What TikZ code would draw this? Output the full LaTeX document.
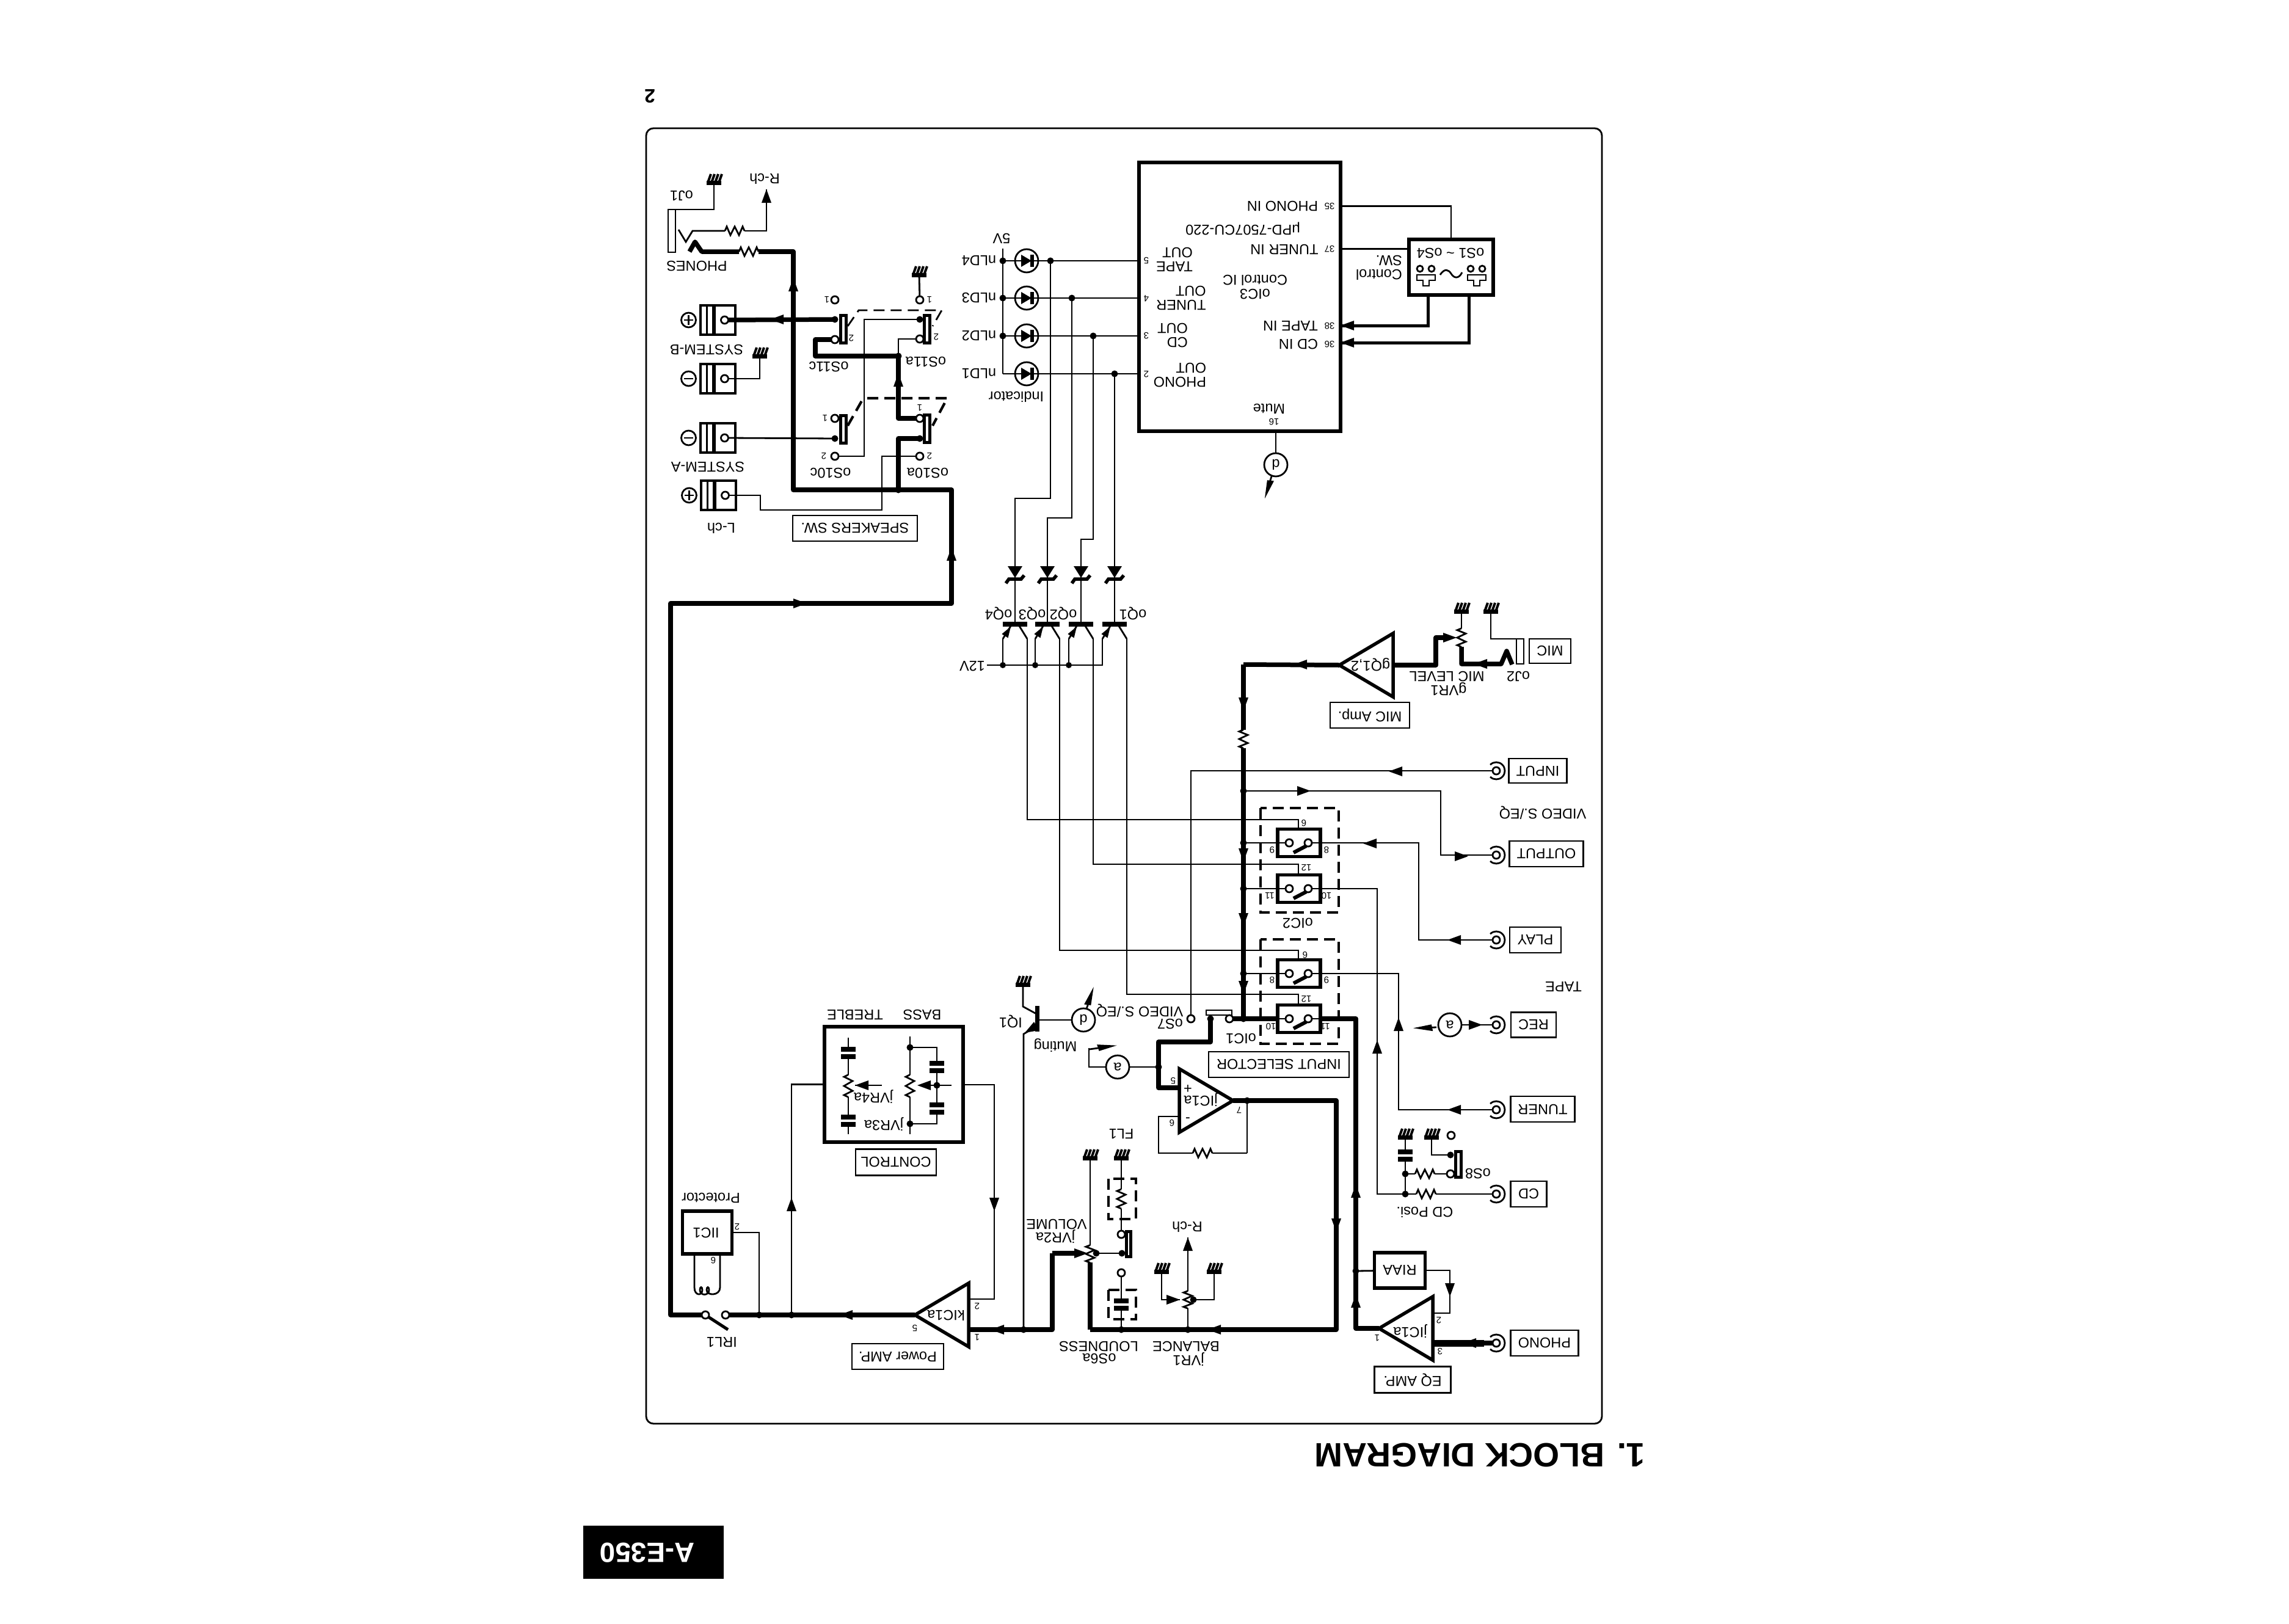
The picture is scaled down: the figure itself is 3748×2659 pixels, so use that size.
\documentclass[tikz,border=0pt]{standalone}
\usepackage{fontspec}
\setmainfont{Liberation Sans}
\tikzset{
  thinw/.style={line width=0.28mm},
  midw/.style={line width=0.5mm},
  thickw/.style={line width=0.75mm,line join=round},
  lbl/.style={rotate=180,inner sep=0pt,align=left,font=\fontsize{6.7}{6.5}\selectfont},
  pinno/.style={rotate=180,inner sep=0pt,font=\fontsize{4.3}{5}\selectfont},
  tagbox/.style={lbl,draw,thinw},
  block/.style={draw,line width=0.55mm,inner sep=0pt},
  sig/.style={lbl,draw,thinw,circle,minimum size=3.8mm},
  dashbox/.style={line width=0.42mm,dash pattern=on 1.8mm off 1mm},
  pics/earth/.style={code={
    \draw[line width=0.7mm] (-12,0) -- (12,0);
    \foreach \h in {-10,-4,2,8} \draw[line width=0.4mm] (\h,0) -- (\h+5,-14);
    \coordinate (-o) at (0,0);
  }},
  pics/res/.style={code={
    \draw[thinw] (-16,0) -- (-13,-7) -- (-7,7) -- (0,-7) -- (7,7) -- (13,-7) -- (16,0);
    \coordinate (-a) at (-16,0);
    \coordinate (-b) at (16,0);
  }},
  pics/capa/.style={code={
    \draw[line width=0.8mm] (-12,-6) -- (12,-6) (-12,6) -- (12,6);
    \coordinate (-t) at (0,-6);
    \coordinate (-u) at (0,6);
  }},
  pics/flow/.style={code={\fill (0,0) -- (-22,-8) -- (-22,8) -- cycle;}},
  pics/bolt/.style={code={
    \draw[thinw] (-#1,0) -- (8,0);
    \fill (6,-6) -- (38,0) -- (8,5) -- cycle;
  }},
  pics/jack/.style={code={
    \draw[thinw,fill=white] (0,0) circle (6);
    \draw[thinw] (-135:14) arc[start angle=-135,end angle=135,radius=14];
    \coordinate (-c) at (-6,0);
  }},
  pics/spk/.style={code={
    \draw[line width=0.42mm] (-28,-24) rectangle (29,24);
    \draw[thinw] (-17.5,-24) -- (-17.5,24);
    \draw[line width=0.55mm] (-6,-24) -- (-6,24);
    \draw[thinw] (11.5,0) circle (6);
    \draw[thinw] (-47.5,0) circle (12);
    \draw[thinw] (-55,0) -- (-40,0);
    \draw[thinw] (-47.5,-#1) -- (-47.5,#1);
    \coordinate (-p) at (17.5,0);
  }},
  pics/ledlamp/.style={code={
    \draw[thinw] (0,0) circle (19);
    \fill (-9,-10) -- (-9,10) -- (8,0) -- cycle;
    \draw[line width=0.6mm] (9,-10) -- (9,10);
  }},
  pics/zenr/.style={code={
    \fill (-12,-21) -- (12,-21) -- (0,-2) -- cycle;
    \draw[line width=0.55mm] (-15,7) -- (-10,0) -- (10,0) -- (15,-6);
  }},
  pics/trans/.style={code={
    \draw[line width=0.8mm] (-20,0) -- (20,0);
    \draw[thinw] (-7,3) -- (-20,24);
    \draw[thinw] (7,3) -- (20,24);
    \fill[shift={(-7,4)},rotate=58] (0,0) -- (-18,-6) -- (-18,6) -- cycle;
    \coordinate (-o) at (0,0);
    \coordinate (-e) at (-20,24);
    \coordinate (-c) at (20,24);
  }},
  pics/ampl/.style={code={
    \draw[line width=0.55mm] (0,-52) -- (0,52) -- (-88,0) -- cycle;
    \coordinate (-i) at (0,0);
    \coordinate (-x) at (-88,0);
  }},
}
\begin{document}
\begin{tikzpicture}[x=0.1mm,y=-0.1mm]
\useasboundingbox (0,0) rectangle (3748,2659);
\draw[thinw,rounded corners=1.2mm] (1058,210) rectangle (2623,2331);

% Erden
\foreach \n/\x/\y in {gj/1169/299,gs/1505/450,gn/1244/583,gm/2441/1001,gv/2393/1001,gc/2301/1862,gd/2344/1862,gw/1785/1896,gf/1836/1896,gl/1902/2082,gr/1988/2082,gq/1675/1612}
  \pic (\n) at (\x,\y) {earth};

% Speaker-Klemmen
\foreach \n/\x/\y/\s in {spb/1175/524/8,spn/1175/620/0,spa/1175/717/0,spl/1176/811/8}
  \pic (\n) at (\x,\y) {spk=\s};

% Hoerer
\draw[thinw] (1094,343) rectangle (1106,413);
\coordinate (j1r) at (1106,343);
\coordinate (j1t) at (1134,378);
\coordinate (j1s) at (1149,412);
\coordinate (rcht) at (1255,310);
\pic (rph) at (1203,378) {res};
\pic (rpt) at (1226,412) {res};
\draw[thinw] (j1r) -| (gj-o);
\draw[thinw] (1111,376) -- (1123,396) -- (j1t) -- (rph-a);
\draw[thinw] (rph-b) -| (rcht);
\draw[thickw] (1129,412) -- (1138,396) -- (j1s) -- (rpt-a);

% Endstufe und Bus
\coordinate (busa) at (1299,802);
\coordinate (busb) at (1471,802);
\coordinate (busc) at (1558,802);
\coordinate (busd) at (1558,988);
\coordinate (buse) at (1098,988);
\coordinate (rlc) at (1155,2153);
\coordinate (rlb) at (1188,2153);
\coordinate (ri) at (1243,2153);
\coordinate (sj) at (1296,2153);
\draw[thickw] (rpt-b) -| (busa) -- (busc) -- (busd) -- (buse) |- (rlc);

% Lautsprecher-Schalter
\foreach \n/\x/\y in {c11a/1367/523,c11b/1367/556,c111/1367/491,a11a/1506/523,a11b/1506/555,a111/1506/491,c10a/1367/718,c101/1367/685,c102/1367/747,a10a/1506/718,a101/1506/685,a102/1506/747,jnc/1471/583,s11l/1335/556,lnk/1415/523,lc1/1245/811,lc2/1444/835}
  \coordinate (\n) at (\x,\y);
\foreach \x/\y in {1376/516,1513/516,1376/680,1513/679}
  \draw[midw] (\x,\y) rectangle (\x+9,\y+45);
\draw[dashbox,thinw] (1388,534) -- (1406,508) -- (1542,508) -- (1527,534);
\draw[dashbox] (1388,697) -- (1413,653) (1420,652) -- (1551,652) -- (1527,697);
\draw[thickw] (spb-p) -- (c11a);
\draw[thickw] (c11b) -- (s11l) |- (jnc);
\draw[thinw] (a11b) -| (jnc);
\draw[thickw] (jnc) |- (a101);
\draw[thickw] (busb) |- (a10a);
\draw[thinw] (a11a) -- (lnk) |- (c102);
\draw[thinw] (spa-p) -- (c10a);
\draw[thinw] (spl-p) -- (lc1) |- (lc2) |- (a102);
\draw[thinw] (spn-p) -| (gn-o);
\draw[thinw] (a111) -- (gs-o);

% Anzeige-LEDs und Steuer-IC
\node[block,minimum width=33mm,minimum height=44mm] (ic3) at (2030,486) {};
\coordinate (v5) at (1642,407);
\foreach \n/\y/\x in {4/427/1720,3/488/1755,2/550/1790,1/612/1825}{
  \coordinate (ld\n) at (1642,\y);
  \coordinate (jd\n) at (\x,\y);
  \pic at (1681,\y) {ledlamp};
  \draw[thinw] (ld\n) -- (ld\n -| ic3.west);
}
\draw[thinw] (v5) -- (ld1);
\foreach \n/\x/\y in {k4/1662/816,k3/1715/848,k2/1770/883}
  \coordinate (\n) at (\x,\y);
\foreach \n/\x in {4/1662,3/1715,2/1770,1/1825}{
  \pic at (\x,948) {zenr};
  \pic (q\n) at (\x,1022) {trans};
}
\draw[thinw] (jd4) |- (k4) -- (q4-o);
\draw[thinw] (jd3) |- (k3) -- (q3-o);
\draw[thinw] (jd2) |- (k2) -- (q2-o);
\draw[thinw] (jd1) -- (q1-o);
\coordinate (v12) at (1616,1089);
\draw[thinw] (v12) -| (q1-e);
\foreach \n in {4,3,2}
  \draw[thinw] (q\n-e) -- (q\n-e |- v12);

\node[sig] (sd1) at (2089,761) {d};
\draw[thinw] (sd1) -- (sd1 |- ic3.south);
\pic[rotate=253] at (2082,780) {bolt=0};

% Bedienschalter
\node[block,minimum width=13.8mm,minimum height=9.1mm] (cs) at (2376,437.5) {};
\foreach \n/\x/\y in {p35/2195/337.5,p37/2195/407.5,p38/2195/533,p36/2195/561,cs1/2338/483,cs2/2405/483}
  \coordinate (\n) at (\x,\y);
\draw[thinw] (p35) -| (cs.north);
\draw[thinw] (p37) -- (p37 -| cs.west);
\draw[midw] (cs1) |- (p38);
\draw[midw] (cs2) |- (p36);
\foreach \x in {2335,2418}{
  \draw[thinw] (\x-10,440) circle (5) (\x+9,440) circle (5);
  \draw[thinw] (\x-15,450) -- (\x+15,450) -- (\x+15,459) -- (\x+5,459) -- (\x+5,468) -- (\x-5,468) -- (\x-5,459) -- (\x-15,459) -- cycle;
}
\draw[thinw] (2358,450) .. controls (2366,438) and (2372,442) .. (2376,448) .. controls (2380,455) and (2388,458) .. (2394,446);

% Eingaenge
\foreach \n/\t/\x/\w/\y/\h in {tin/INPUT/2518/95/1262/40,tou/OUTPUT/2532/121/1398/42,tpl/PLAY/2514/84/1539/42,tre/REC/2511/74/1678/41,ttu/TUNER/2526/105/1816/42,tcd/CD/2503/59/1955/42,tph/PHONO/2529/111/2199/42,tmi/MIC/2538/68/1066/40,tma/{MIC Amp.}/2243/130/1171/42,tsp/{SPEAKERS SW.}/1400/204/865/42,tse/{INPUT SELECTOR}/2094/230/1743/42,tct/CONTROL/1467/132/1903/43,tpw/{Power AMP.}/1470/150/2221/42,teq/{EQ AMP.}/2313/125/2259/43}
  \node[tagbox,minimum width=\w*0.1mm,minimum height=\h*0.1mm] (\n) at (\x,\y) {\t};
\foreach \n/\y in {i/1262,o/1400,p/1539,r/1678,t/1817,c/1955,f/2199}
  \pic (jk\n) at (2450,\y) {jack};

% Mikrofon
\draw[thinw] (2483,1046) rectangle (2495,1087);
\coordinate (j2t) at (2483,1046);
\coordinate (j2s) at (2458,1087);
\coordinate (vmb) at (2393,1087);
\coordinate (vmw) at (2351,1044);
\coordinate (bust) at (2036,1088);
\draw[thinw] (j2t) -| (gm-o);
\pic[rotate=90,xscale=0.95] (rmv) at (2393,1044) {res};
\draw[thinw] (rmv-b) -- (gv-o);
\draw[thickw] (2476,1088) -- (2467,1066) -- (j2s) -- (vmb) -- (rmv-a);
\pic (mamp) at (2281,1089) {ampl};
\draw[thickw] (mamp-i) -| (vmw) -- (2365,1044);
\draw[thickw] (mamp-x) -- (bust);

% Eingangswahl
\foreach \n/\y in {1/1380,2/1455,3/1594,4/1668}{
  \node[block,minimum width=7mm,minimum height=4.5mm] (sw\n) at (2127,\y) {};
  \coordinate (bs\n) at (2036,\y);
  \draw[thinw] (sw\n.west) -- (2105,\y) (sw\n.east) -- (2148,\y);
  \draw[thinw] (2111,\y) circle (6) (2142,\y) circle (6);
  \draw[line width=0.6mm] (2139,\y+5) -- (2118,\y+16);
}
\foreach \n/\x/\y in {t1/2126/1342,t2/2126/1415,t3/2126/1556,t4/2126/1628,buso/2036/1295,oc/2359/1295,pc/2323/1539,tc/2290/1817,cc/2255/1955,rb/2220/1668,cdj/2301/1955,cdk/2301/1922,s8b/2375/1922,s8a/2375/1891,s8o/2376/1859,s7a/2013/1668,s7b/1950/1668,s7d/1982/1668,s7f/1897/1706,s7g/1897/1781,s7h/1897/1747,ic1p/1930/1781,ic1m/1930/1828,fb/2042/1802,fc/2042/1888,fd/1897/1888}
  \coordinate (\n) at (\x,\y);
\draw[thinw] (q4-c) |- (t1) -- (t1 |- sw1.north);
\draw[thinw] (q2-c) |- (t2) -- (t2 |- sw2.north);
\draw[thinw] (q3-c) |- (t3) -- (t3 |- sw3.north);
\draw[thinw] (q1-c) |- (t4) -- (t4 |- sw4.north);
\draw[dashbox] (2064,1323) rectangle (2192,1494);
\draw[dashbox] (2064,1538) rectangle (2192,1709);
\pic[rotate=90,xscale=0.95] (rbus) at (2036,1210) {res};
\draw[thickw] (bust) -- (rbus-b);
\draw[thickw] (rbus-a) -- (bs4) -- (sw4.west);
\foreach \n in {1,2,3}
  \draw[thinw] (bs\n) -- (sw\n.west);
\draw[thickw] (bs4) -- (s7a);
\draw[thinw] (jki-c) -| (s7b);
\draw[thinw] (buso) -- (oc) |- (jko-c);
\draw[thinw] (jkp-c) -- (pc) |- (sw1.east);
\draw[thinw] (sw3.east) -| (tc) -- (jkt-c);
\node[sig] (sar) at (2374,1678) {a};
\draw[thinw] (jkr-c) -- (sar);
\pic[rotate=182] at (2352,1682) {bolt=0};
\pic (rcd) at (2335,1955) {res};
\pic (rs8) at (2333,1922) {res};
\pic (cs8) at (2301,1891.5) {capa};
\draw[thinw] (sw2.east) -| (cc) -- (rcd-a);
\draw[thinw] (jkc-c) -- (rcd-b);
\draw[thinw] (cdj) -- (cdk) -- (rs8-a);
\draw[thinw] (rs8-b) -- (s8b);
\draw[thinw] (cdk) -- (cs8-u) (cs8-t) -- (gc-o);
\draw[thinw] (s8a) -| (gd-o);
\draw[midw] (2383,1885) rectangle (2392,1927);
\draw[thinw] (1975,1654) rectangle (2017,1662);
\draw[thickw] (s7d) |- (s7f) -- (s7g) -- (ic1p);

% Verstaerker
\pic[rotate=180] (amp1) at (1931,1802) {ampl};
\pic (eqa) at (2346,2175) {ampl};
\pic (pow) at (1586,2153) {ampl};
\node[block,rotate=180,minimum width=8.3mm,minimum height=5.8mm,font=\fontsize{6.7}{7}\selectfont] (riaa) at (2292,2080) {RIAA};
\foreach \n/\x/\y in {eq2/2346/2150,eqk/2374/2080,eqi/2346/2199,ra/2188/2177,vra/1785/2177,vrw/1723/2052,ka1/1586/2177,ka2/1586/2127,kb/1628/1776,lj/1836/2177,bj/1945/2177,iqe/1676/2177,cdd/2220/2081,vrd/1795/2052,lud/1837/2052,lua/1836/2021,lub/1836/2084,bd/1954/2128}
  \coordinate (\n) at (\x,\y);
\draw[thinw] (eq2) -| (eqk) -- (riaa);
\draw[thinw] (riaa) -- (cdd);
\draw[thickw] (jkf-c) -- (eqi);
\draw[line width=1.1mm] (2430,2199) -- (2346,2199);
\draw[thickw] (eqa-x) -| (rb) -- (sw4.east);
\draw[thickw] (amp1-x) -| (ra) -- (vra);
\draw[thinw] (fb) -- (fc);
\pic (rfb) at (1969,1888) {res};
\draw[thinw] (fc) -- (rfb-b) (rfb-a) -- (fd) |- (ic1m);
\node[sig] (sas) at (1830,1747) {a};
\draw[thinw] (s7h) -- (sas);
\coordinate (sak) at (1783,1716);
\draw[thinw] (sas) -| (sak);
\pic[rotate=8] at (1791,1717) {bolt=8};

% Lautstaerke, Loudness, Balance
\pic[rotate=90,xscale=0.9] (vr2) at (1785,2053) {res};
\draw[thickw] (vra) -- (vr2-a);
\draw[thinw] (vr2-b) -- (gw-o);
\draw[thickw] (vrw) -- (1770,2052);
\draw[thickw] (vrw) |- (ka1);
\draw[thinw] (vrd) -- (lud);
\draw[midw] (1844,2016) rectangle (1851,2057);
\pic[rotate=90] (rfl) at (1836,1963) {res};
\draw[thinw] (lua) -- (rfl-a) (rfl-b) -- (gf-o);
\draw[dashbox] (1815,1930) rectangle (1860,1996);
\draw[dashbox] (1815,2112) rectangle (1860,2160);
\pic (cfl) at (1836,2135.5) {capa};
\draw[thinw] (lub) -- (cfl-t) (cfl-u) -- (lj);
\pic[rotate=90,xscale=0.9] (vr1) at (1945,2128) {res};
\draw[thinw] (bj) -- (vr1-a);
\draw[thinw] (vr1-b) -- (1945,2026);
\draw[thinw] (gl-o) |- (1932,2128);
\draw[thinw] (bd) -| (gr-o);

% Muting-Stufe
\node[sig] (sdq) at (1774,1670) {d};
\draw[thinw] (sdq) -- (1698,1670);
\draw[line width=0.7mm] (1698,1647) -- (1698,1689);
\coordinate (iqc) at (1675,1648);
\coordinate (iqb) at (1676,1693);
\draw[thinw] (1697,1660) -- (iqc) -- (gq-o);
\draw[thinw] (1698,1680) -- (iqb) -- (iqe);
\pic[rotate=72] at (1779,1652) {bolt=0};

% Klangregelung
\node[block,minimum width=22.7mm,minimum height=18.9mm] (ctl) at (1463.5,1775.5) {};
\draw[thinw] (ka2) -| (kb) -- (kb -| ctl.east);
\draw[thinw] (sj) |- (ctl.west);
% Hoehen
\pic (ct1) at (1389,1724) {capa};
\pic (ct2) at (1389,1835) {capa};
\pic[rotate=90,xscale=1.15] (rt) at (1389,1778) {res};
\draw[thinw] (1389,1699) -- (ct1-t) (ct1-u) -- (rt-b) (rt-a) -- (ct2-t) (ct2-u) -- (1389,1857);
\draw[thinw] (1444,1777) -- (1400,1777);
% Baesse
\coordinate (bb1) at (1490,1715);
\coordinate (bb2) at (1490,1840);
\coordinate (bbm) at (1534,1777);
\pic[rotate=90,xscale=1.15] (rb3) at (1490,1778) {res};
\draw[thinw] (1490,1697) -- (rb3-b) (rb3-a) -- (1490,1857);
\pic (cb1) at (1534,1747) {capa};
\pic (cb2) at (1534,1815) {capa};
\draw[thinw] (bb1) -| (cb1-t) (cb1-u) -- (cb2-t) (cb2-u) |- (bb2);
\draw[thinw] (1558,1777) -- (1504,1777);

% Leistungsstufe und Schutz
\node[block,minimum width=8.1mm,minimum height=7mm] (iic) at (1158,2018) {};
\draw[thickw] (pow-x) -- (rlb);
\draw[thinw] (iic.east) -| (ri);
\draw[midw] (1158,2155) -- (1192,2177);
\draw[thinw] (1137,2053) -- (1137,2108) .. controls (1137,2122) and (1150,2122) .. (1150,2112) .. controls (1150,2106) and (1146,2106) .. (1146,2112) .. controls (1146,2122) and (1161,2122) .. (1161,2112) .. controls (1161,2106) and (1157,2106) .. (1157,2112) .. controls (1157,2122) and (1179,2122) .. (1179,2108) -- (1179,2053);

% Pfeile auf den Leitungen
\foreach \x/\y/\a in {1299/455/90,1261/523/180,1471/611/90,1558/896/90,1321/988/0,
  1255/310/90,2274/1263/180,2146/1295/0,2404/1402/0,2232/1381/180,2370/1539/180,2427/1678/0,2370/1817/180,2395/2199/180,
  2413/1087/180,2385/1044/0,2118/1088/180,2036/1164/270,2036/1411/270,2036/1517/270,2036/1628/270,
  2255/1703/90,2290/1666/90,2220/1939/90,2220/2119/90,2374/2123/270,2188/2017/270,1977/2177/180,1781/2052/0,1945/2026/90,1932/2128/0,
  1622/2177/180,1628/1983/270,1296/1961/90,1374/2153/180,1400/1777/180,1502/1777/180,1678/1691/210,2195/533/180,2195/561/180}
  \pic[rotate=\a] at (\x,\y) {flow};

% Verbindungspunkte und offene Kontakte
\foreach \n in {c11a,a11a,c10a,a10a,jnc,busb,ld4,ld3,ld2,jd4,jd3,jd2,jd1,bs1,bs2,bs3,bs4,buso,cdj,cdk,s8a,s7d,s7h,fb,lj,bj,iqe,cdd,vrd,lud,bd,ri,sj,bb1,bb2,bbm}
  \fill (\n) circle (5.5);
\foreach \n in {1642,1695,1750}
  \fill (\n,1089) circle (5);
\foreach \n in {c11b,c111,a11b,a111,c101,c102,a101,a102,s8b,s8o,s7a,s7b,lua,lub,rlb,rlc}
  \draw[thinw,fill=white] (\n) circle (6);

% Beschriftung
\foreach \n/\x/\y/\t in {rch/1252/293/R-ch,oj1/1116/320/oJ1,phs/1141/436/PHONES,sysb/1157/573/SYSTEM-B,sysa/1159/765/SYSTEM-A,lch/1181/865/L-ch,
  s11c/1357/601/oS11c,s11a/1516/593/oS11a,s10c/1360/775/oS10c,s10a/1519/775/oS10a,
  fv/1640/390/5V,ld4/1603/427/nLD4,ld3/1603/488/nLD3,ld2/1603/550/nLD2,ld1/1603/612/nLD1,ind/1664/650/Indicator,
  tpo/1923/425/{TAPE\\OUT},tno/1934/488/{TUNER\\OUT},cdo/1920/549/{CD\\OUT},pho/1932/614/{PHONO\\OUT},
  mut/2078/669/Mute,upd/2035/374/μPD-7507CU-220,
  pin/2100/338/PHONO IN,tin/2103/408/TUNER IN,tap/2113/534/TAPE IN,cin/2126/564/CD IN,
  sws/2375/415/{oS1 \textasciitilde{} oS4},ctr/2258/438/{Control\\SW.},
  q4/1635/1004/oQ4,q3/1690/1004/oQ3,q2/1741/1004/oQ2,q1/1855/1004/oQ1,v12/1592/1091/12V,
  j2/2486/1108/oJ2,ml/2369/1108/MIC LEVEL,vr/2372/1128/gVR1,qa/2244/1088/{gQ1,2},
  vs/2526/1331/{VIDEO S./EQ},tp/2560/1616/TAPE,ic2/2125/1512/oIC2,ic1/2032/1701/oIC1,s7/1916/1677/oS7,ve/1866/1655/{VIDEO S./EQ},
  iq/1655/1672/IQ1,mu/1728/1712/Muting,s8/2420/1922/oS8,pos/2333/1985/CD Posi.,
  ja/1966/1801/jIC1a,je/2309/2180/jIC1a,fl/1836/1857/FL1,vo/1730/2005/VOLUME,vra/1728/2025/jVR2a,ln/1799/2205/LOUDNESS,s6/1800/2225/oS6a,
  ba/1942/2205/BALANCE,vb/1946/2226/jVR1,rc/1944/2009/R-ch,
  tr/1400/1662/TREBLE,bs/1510/1662/BASS,v4/1430/1796/jVR4a,v3/1447/1841/jVR3a,kic/1549/2154/kIC1a,pr/1164/1961/Protector,iic/1156/2019/IIC1,rl/1182/2198/IRL1}
  \node[lbl] (lb\n) at (\x,\y) {\t};
\node[lbl,align=center] (lbici) at (2055,470) {oIC3\\Control IC};
\node[lbl] (lbplus) at (1945,1781) {+};
\node[lbl] (lbminus) at (1945,1828) {-};
\foreach \x/\y/\t [count=\i] in {1394/554/2,1533/552/2,1354/491/1,1522/491/1,1351/685/1,1506/668/1,1349/747/2,1522/747/2,
  1877/427/5,1877/489/4,1877/550/3,1877/613/2,2177/338/35,2177/408/37,2177/534/38,2177/564/36,2086/691/16,
  2083/1392/9,2172/1392/8,2135/1348/6,2079/1467/11,2172/1467/10,2139/1421/12,2083/1605/8,2172/1605/9,2137/1564/6,2081/1681/10,2170/1681/11,2139/1636/12,
  1921/1770/5,1919/1839/6,2029/1818/7,2356/2162/2,2358/2213/3,2255/2191/1,1600/2139/2,1600/2190/1,1498/2175/5,1207/2009/2,1168/2064/6}
  \node[pinno] (pn\i) at (\x,\y) {\t};

% Titel und Seitenkopf
\node[rotate=180,inner sep=0pt,font=\fontsize{15.7}{18}\selectfont\bfseries] (title) at (2423,2382) {1. BLOCK DIAGRAM};
\node[rotate=180,inner sep=0pt,font=\fontsize{9}{10}\selectfont\bfseries] (page) at (1064,158) {2};
\fill (955,2498) rectangle (1185,2585);
\node[rotate=180,inner sep=0pt,text=white,font=\fontsize{13}{14}\selectfont\bfseries] (model) at (1060,2542) {A-E350};
\end{tikzpicture}
\end{document}
